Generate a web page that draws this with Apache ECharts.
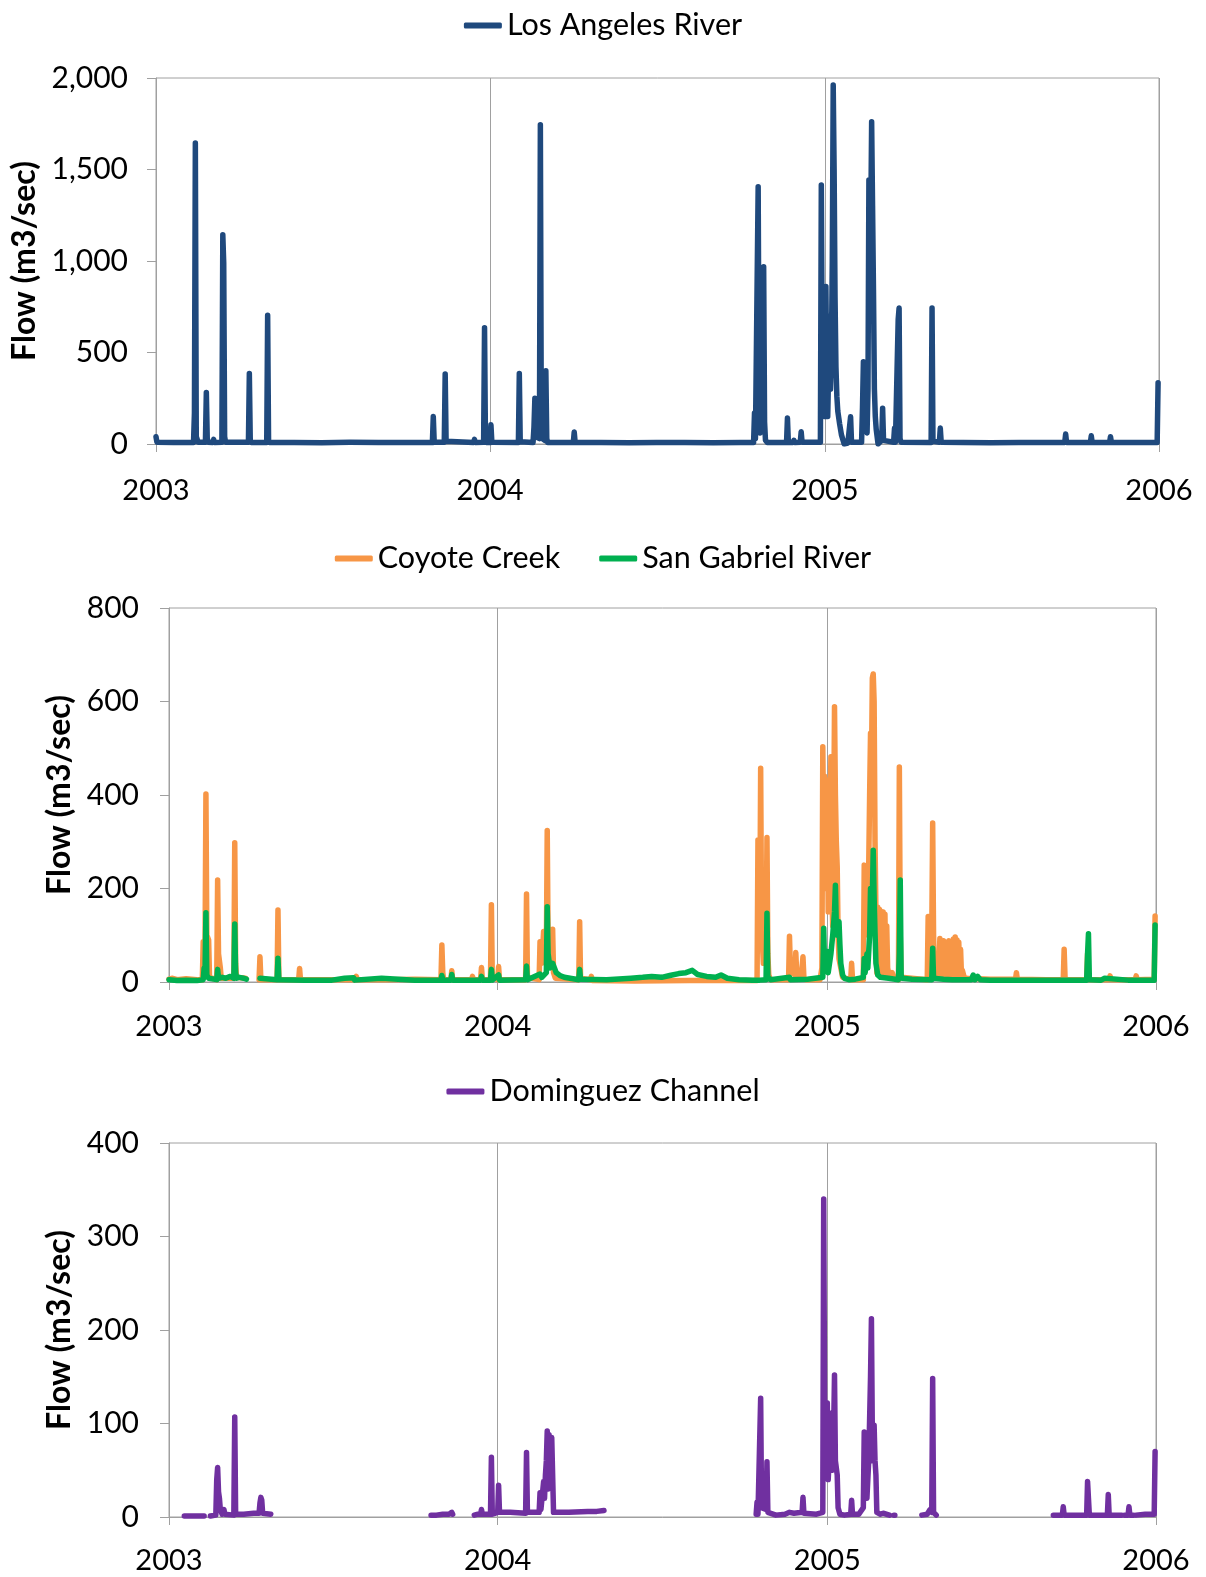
<!DOCTYPE html>
<html>
<head>
<meta charset="utf-8">
<script src="https://cdn.jsdelivr.net/npm/echarts@6/dist/echarts.min.js"></script>
<style>
html, body { margin: 0; padding: 0; background: #fff; }
#flow_chart { width: 1206px; height: 1577px; }
</style>
</head>
<body>
<div id="flow_chart"></div>
<script>
// daily flow readings, m3/sec ('-' = no record)
var yearTicks = [2003, 2004, 2005, 2006];

var laRiver = [
    ['2003-01-01', 40], ['2003-01-02', 10], ['2003-01-20', 8], ['2003-02-11', 8], ['2003-02-12', 170], ['2003-02-13', 1645],
    ['2003-02-14', 40], ['2003-02-16', 10], ['2003-02-24', 10], ['2003-02-25', 282], ['2003-02-26', 30], ['2003-02-27', 10],
    ['2003-03-04', 8], ['2003-03-05', 25], ['2003-03-06', 8], ['2003-03-14', 10], ['2003-03-15', 1143], ['2003-03-16', 990],
    ['2003-03-17', 40], ['2003-03-18', 10], ['2003-04-12', 10], ['2003-04-13', 385], ['2003-04-14', 20], ['2003-04-15', 8],
    ['2003-05-02', 8], ['2003-05-03', 703], ['2003-05-04', 20], ['2003-05-05', 8], ['2003-06-01', 8], ['2003-07-01', 7],
    ['2003-08-01', 9], ['2003-09-01', 8], ['2003-10-01', 8], ['2003-10-30', 8], ['2003-10-31', 150], ['2003-11-01', 10],
    ['2003-11-12', 10], ['2003-11-13', 383], ['2003-11-14', 15], ['2003-11-15', 8], ['2003-12-14', 8], ['2003-12-15', 25],
    ['2003-12-16', 8], ['2003-12-25', 10], ['2003-12-26', 635], ['2003-12-27', 20], ['2003-12-28', 8], ['2004-01-01', 8],
    ['2004-01-02', 105], ['2004-01-03', 10], ['2004-02-01', 8], ['2004-02-02', 385], ['2004-02-03', 12], ['2004-02-04', 8],
    ['2004-02-17', 8], ['2004-02-18', 90], ['2004-02-19', 250], ['2004-02-20', 40], ['2004-02-24', 30], ['2004-02-25', 1745],
    ['2004-02-26', 150], ['2004-02-27', 30], ['2004-03-01', 20], ['2004-03-02', 400], ['2004-03-03', 30], ['2004-03-04', 8],
    ['2004-04-01', 8], ['2004-04-02', 66], ['2004-04-03', 8], ['2004-05-01', 8], ['2004-06-01', 7], ['2004-07-01', 8],
    ['2004-08-01', 8], ['2004-09-01', 7], ['2004-10-01', 8], ['2004-10-15', 8], ['2004-10-16', 170], ['2004-10-17', 30],
    ['2004-10-19', 40], ['2004-10-20', 1406], ['2004-10-21', 300], ['2004-10-22', 60], ['2004-10-25', 80], ['2004-10-26', 969],
    ['2004-10-27', 120], ['2004-10-28', 20], ['2004-10-30', 8], ['2004-11-20', 8], ['2004-11-21', 142], ['2004-11-22', 8],
    ['2004-11-27', 8], ['2004-11-28', 20], ['2004-11-29', 8], ['2004-12-05', 10], ['2004-12-06', 67], ['2004-12-07', 10],
    ['2004-12-27', 10], ['2004-12-28', 1415], ['2004-12-29', 500], ['2004-12-30', 200], ['2004-12-31', 300], ['2005-01-01', 150],
    ['2005-01-02', 860], ['2005-01-03', 300], ['2005-01-04', 150], ['2005-01-05', 400], ['2005-01-06', 700], ['2005-01-07', 300],
    ['2005-01-08', 500], ['2005-01-09', 1000], ['2005-01-10', 1962], ['2005-01-11', 1500], ['2005-01-12', 800], ['2005-01-13', 420],
    ['2005-01-14', 260], ['2005-01-15', 180], ['2005-01-17', 110], ['2005-01-19', 50], ['2005-01-22', 0], ['2005-01-26', 5],
    ['2005-01-28', 8], ['2005-01-29', 149], ['2005-01-30', 10], ['2005-02-10', 10], ['2005-02-11', 200], ['2005-02-12', 450],
    ['2005-02-13', 150], ['2005-02-14', 395], ['2005-02-15', 100], ['2005-02-16', 60], ['2005-02-17', 300], ['2005-02-18', 1442],
    ['2005-02-19', 900], ['2005-02-20', 1200], ['2005-02-21', 1761], ['2005-02-22', 1300], ['2005-02-23', 841], ['2005-02-24', 300],
    ['2005-02-25', 150], ['2005-02-26', 80], ['2005-02-27', 40], ['2005-02-28', 0], ['2005-03-02', 5], ['2005-03-04', 20],
    ['2005-03-05', 196], ['2005-03-06', 20], ['2005-03-08', 10], ['2005-03-17', 10], ['2005-03-18', 87], ['2005-03-19', 10],
    ['2005-03-21', 10], ['2005-03-22', 680], ['2005-03-23', 743], ['2005-03-24', 30], ['2005-03-25', 10], ['2005-04-27', 8],
    ['2005-04-28', 743], ['2005-04-29', 15], ['2005-05-06', 10], ['2005-05-07', 87], ['2005-05-08', 10], ['2005-06-01', 8],
    ['2005-07-01', 7], ['2005-08-01', 8], ['2005-09-01', 8], ['2005-09-20', 8], ['2005-09-21', 55], ['2005-09-22', 8],
    ['2005-10-18', 8], ['2005-10-19', 45], ['2005-10-20', 8], ['2005-11-08', 8], ['2005-11-09', 40], ['2005-11-10', 8],
    ['2005-12-01', 8], ['2005-12-30', 8], ['2005-12-31', 335]
];

var coyoteCreek = [
    ['2003-01-01', 6], ['2003-01-05', 8], ['2003-01-10', 5], ['2003-01-20', 7], ['2003-02-01', 5], ['2003-02-07', 5],
    ['2003-02-08', 86], ['2003-02-10', 60], ['2003-02-11', 402], ['2003-02-12', 100], ['2003-02-14', 90], ['2003-02-15', 10],
    ['2003-02-23', 5], ['2003-02-24', 218], ['2003-02-25', 60], ['2003-02-27', 30], ['2003-02-28', 8], ['2003-03-14', 8],
    ['2003-03-15', 298], ['2003-03-16', 40], ['2003-03-17', 10], ['2003-03-27', 8], ['2003-03-29', '-'], ['2003-04-11', 5],
    ['2003-04-12', 54], ['2003-04-13', 5], ['2003-05-01', 5], ['2003-05-02', 154], ['2003-05-03', 10], ['2003-05-04', 5],
    ['2003-05-25', 5], ['2003-05-26', 29], ['2003-05-27', 5], ['2003-07-27', 5], ['2003-07-28', 12], ['2003-07-29', 5],
    ['2003-09-01', 5], ['2003-10-01', 6], ['2003-10-30', 5], ['2003-10-31', 79], ['2003-11-01', 20], ['2003-11-02', 5],
    ['2003-11-10', 5], ['2003-11-11', 24], ['2003-11-12', 5], ['2003-12-03', 5], ['2003-12-04', 12], ['2003-12-05', 5],
    ['2003-12-13', 5], ['2003-12-14', 31], ['2003-12-15', 5], ['2003-12-24', 5], ['2003-12-25', 165], ['2003-12-26', 10],
    ['2004-01-01', 5], ['2004-01-02', 33], ['2004-01-03', 5], ['2004-02-01', 5], ['2004-02-02', 188], ['2004-02-03', 10],
    ['2004-02-16', 5], ['2004-02-17', 86], ['2004-02-19', 40], ['2004-02-21', 108], ['2004-02-24', 60], ['2004-02-25', 324],
    ['2004-02-26', 80], ['2004-03-01', 40], ['2004-03-02', 113], ['2004-03-03', 20], ['2004-03-05', 8], ['2004-03-31', 5],
    ['2004-04-01', 129], ['2004-04-02', 8], ['2004-04-13', 5], ['2004-04-14', 12], ['2004-04-15', 3], ['2004-06-01', 2],
    ['2004-08-01', 3], ['2004-10-15', 3], ['2004-10-16', 304], ['2004-10-17', 150], ['2004-10-18', 100], ['2004-10-19', 457],
    ['2004-10-20', 120], ['2004-10-22', 40], ['2004-10-25', 60], ['2004-10-26', 309], ['2004-10-27', 60], ['2004-10-28', 15],
    ['2004-10-30', 5], ['2004-11-19', 5], ['2004-11-20', 98], ['2004-11-21', 30], ['2004-11-23', 20], ['2004-11-26', 15],
    ['2004-11-27', 63], ['2004-11-28', 20], ['2004-12-03', 10], ['2004-12-05', 54], ['2004-12-06', 10], ['2004-12-08', 5],
    ['2004-12-24', 5], ['2004-12-26', 30], ['2004-12-27', 503], ['2004-12-28', 300], ['2004-12-29', 440], ['2004-12-30', 200],
    ['2004-12-31', 300], ['2005-01-01', 432], ['2005-01-02', 150], ['2005-01-03', 200], ['2005-01-05', 482], ['2005-01-06', 200],
    ['2005-01-07', 120], ['2005-01-08', 300], ['2005-01-09', 589], ['2005-01-10', 400], ['2005-01-11', 300], ['2005-01-12', 247],
    ['2005-01-13', 100], ['2005-01-14', 50], ['2005-01-16', 30], ['2005-01-18', 10], ['2005-01-27', 5], ['2005-01-28', 40],
    ['2005-01-29', 5], ['2005-02-10', 5], ['2005-02-11', 250], ['2005-02-12', 100], ['2005-02-14', 200], ['2005-02-16', 250],
    ['2005-02-17', 400], ['2005-02-18', 532], ['2005-02-19', 450], ['2005-02-20', 650], ['2005-02-21', 659], ['2005-02-22', 600],
    ['2005-02-23', 300], ['2005-02-24', 150], ['2005-02-25', 20], ['2005-02-26', 160], ['2005-02-27', 15], ['2005-02-28', 155],
    ['2005-03-01', 20], ['2005-03-02', 150], ['2005-03-03', 15], ['2005-03-04', 150], ['2005-03-05', 20], ['2005-03-06', 145],
    ['2005-03-07', 15], ['2005-03-08', 120], ['2005-03-09', 30], ['2005-03-11', 10], ['2005-03-14', 20], ['2005-03-16', 8],
    ['2005-03-21', 5], ['2005-03-22', 460], ['2005-03-23', 100], ['2005-03-24', 10], ['2005-04-22', 5], ['2005-04-23', 140],
    ['2005-04-24', 20], ['2005-04-25', 80], ['2005-04-26', 15], ['2005-04-27', 100], ['2005-04-28', 340], ['2005-04-29', 100],
    ['2005-04-30', 20], ['2005-05-01', 60], ['2005-05-02', 15], ['2005-05-03', 40], ['2005-05-04', 10], ['2005-05-05', 30],
    ['2005-05-06', 93], ['2005-05-07', 10], ['2005-05-08', 80], ['2005-05-09', 15], ['2005-05-10', 88], ['2005-05-11', 10],
    ['2005-05-12', 75], ['2005-05-13', 12], ['2005-05-14', 85], ['2005-05-15', 10], ['2005-05-16', 88], ['2005-05-17', 90],
    ['2005-05-18', 12], ['2005-05-19', 82], ['2005-05-20', 10], ['2005-05-21', 92], ['2005-05-22', 15], ['2005-05-23', 96],
    ['2005-05-24', 10], ['2005-05-25', 90], ['2005-05-26', 12], ['2005-05-27', 85], ['2005-05-28', 10], ['2005-05-29', 70],
    ['2005-05-30', 15], ['2005-05-31', 25], ['2005-06-02', 10], ['2005-06-05', 8], ['2005-07-01', 6], ['2005-07-29', 6],
    ['2005-07-30', 20], ['2005-07-31', 6], ['2005-09-01', 5], ['2005-09-20', 5], ['2005-09-21', 70], ['2005-09-22', 10],
    ['2005-09-23', 5], ['2005-10-16', 5], ['2005-10-17', 60], ['2005-10-18', 20], ['2005-10-19', 5], ['2005-11-10', 5],
    ['2005-11-11', 13], ['2005-11-12', 5], ['2005-12-09', 5], ['2005-12-10', 13], ['2005-12-11', 5], ['2005-12-30', 6],
    ['2005-12-31', 141]
];

var sanGabriel = [
    ['2003-01-01', 5], ['2003-01-10', 3], ['2003-01-20', 4], ['2003-02-01', 3], ['2003-02-08', 5], ['2003-02-09', 30],
    ['2003-02-10', 20], ['2003-02-11', 148], ['2003-02-12', 15], ['2003-02-14', 8], ['2003-02-23', 5], ['2003-02-24', 27],
    ['2003-02-25', 8], ['2003-03-01', 10], ['2003-03-05', 8], ['2003-03-10', 12], ['2003-03-14', 8], ['2003-03-15', 124],
    ['2003-03-16', 20], ['2003-03-17', 8], ['2003-03-20', 10], ['2003-03-25', 8], ['2003-03-28', 6], ['2003-03-29', '-'],
    ['2003-04-12', 8], ['2003-04-13', 5], ['2003-05-01', 5], ['2003-05-02', 51], ['2003-05-03', 5], ['2003-06-01', 4],
    ['2003-07-01', 4], ['2003-07-15', 8], ['2003-07-16', 4], ['2003-07-25', 9], ['2003-07-26', 4], ['2003-08-25', 8],
    ['2003-08-26', 4], ['2003-10-01', 4], ['2003-10-30', 4], ['2003-10-31', 14], ['2003-11-01', 4], ['2003-11-10', 4],
    ['2003-11-11', 16], ['2003-11-12', 4], ['2003-12-13', 4], ['2003-12-14', 12], ['2003-12-15', 4], ['2003-12-24', 4],
    ['2003-12-25', 27], ['2003-12-26', 4], ['2004-01-02', 15], ['2004-01-03', 4], ['2004-02-01', 5], ['2004-02-02', 34],
    ['2004-02-03', 5], ['2004-02-17', 17], ['2004-02-19', 10], ['2004-02-24', 20], ['2004-02-25', 161], ['2004-02-26', 60],
    ['2004-02-28', 30], ['2004-03-02', 40], ['2004-03-04', 30], ['2004-03-06', 20], ['2004-03-10', 14], ['2004-03-15', 10],
    ['2004-03-31', 5], ['2004-04-01', 27], ['2004-04-02', 6], ['2004-05-01', 5], ['2004-05-28', 8], ['2004-06-10', 10],
    ['2004-06-20', 12], ['2004-07-01', 10], ['2004-07-10', 14], ['2004-07-20', 18], ['2004-07-28', 20], ['2004-08-04', 25],
    ['2004-08-10', 16], ['2004-08-20', 12], ['2004-08-30', 10], ['2004-09-05', 15], ['2004-09-12', 8], ['2004-09-25', 5],
    ['2004-10-10', 4], ['2004-10-18', 4], ['2004-10-19', 8], ['2004-10-20', 4], ['2004-10-25', 5], ['2004-10-26', 147],
    ['2004-10-27', 10], ['2004-10-30', 5], ['2004-11-20', 10], ['2004-11-21', 5], ['2004-12-10', 6], ['2004-12-27', 10],
    ['2004-12-28', 115], ['2004-12-29', 30], ['2004-12-31', 40], ['2005-01-01', 65], ['2005-01-02', 20], ['2005-01-05', 60],
    ['2005-01-07', 100], ['2005-01-09', 150], ['2005-01-10', 207], ['2005-01-11', 120], ['2005-01-12', 100], ['2005-01-14', 129],
    ['2005-01-15', 80], ['2005-01-16', 40], ['2005-01-18', 15], ['2005-01-20', 8], ['2005-01-25', 5], ['2005-02-01', 6],
    ['2005-02-10', 10], ['2005-02-11', 50], ['2005-02-12', 20], ['2005-02-14', 60], ['2005-02-15', 30], ['2005-02-17', 100],
    ['2005-02-18', 200], ['2005-02-19', 120], ['2005-02-20', 180], ['2005-02-21', 282], ['2005-02-22', 180], ['2005-02-23', 105],
    ['2005-02-24', 40], ['2005-02-26', 15], ['2005-03-01', 10], ['2005-03-10', 8], ['2005-03-21', 5], ['2005-03-22', 60],
    ['2005-03-23', 218], ['2005-03-24', 15], ['2005-03-25', 8], ['2005-04-05', 6], ['2005-04-27', 5], ['2005-04-28', 72],
    ['2005-04-29', 8], ['2005-05-10', 6], ['2005-05-20', 5], ['2005-06-10', 5], ['2005-06-12', 15], ['2005-06-14', 5],
    ['2005-06-17', 12], ['2005-06-20', 5], ['2005-07-01', 4], ['2005-08-01', 4], ['2005-09-01', 4], ['2005-10-16', 4],
    ['2005-10-17', 60], ['2005-10-18', 103], ['2005-10-19', 5], ['2005-11-01', 4], ['2005-11-05', 8], ['2005-11-06', 4],
    ['2005-12-01', 4], ['2005-12-30', 4], ['2005-12-31', 122]
];

var dominguez = [
    ['2003-01-18', 1], ['2003-01-28', 1], ['2003-02-09', 1], ['2003-02-12', '-'], ['2003-02-16', 1], ['2003-02-22', 2],
    ['2003-02-23', 40], ['2003-02-24', 53], ['2003-02-25', 27], ['2003-02-26', 20], ['2003-02-27', 8], ['2003-03-01', 3],
    ['2003-03-03', 8], ['2003-03-04', 3], ['2003-03-14', 2], ['2003-03-15', 107], ['2003-03-16', 3], ['2003-03-25', 3],
    ['2003-04-05', 4], ['2003-04-11', 4], ['2003-04-12', 15], ['2003-04-13', 21], ['2003-04-14', 18], ['2003-04-15', 4],
    ['2003-04-24', 3], ['2003-04-26', '-'], ['2003-10-19', 2], ['2003-10-25', 2], ['2003-11-01', 3], ['2003-11-08', 3],
    ['2003-11-11', 5], ['2003-11-12', 3], ['2003-11-14', '-'], ['2003-12-06', 2], ['2003-12-10', 3], ['2003-12-13', 3],
    ['2003-12-14', 8], ['2003-12-15', 3], ['2003-12-24', 3], ['2003-12-25', 64], ['2003-12-26', 3], ['2004-01-01', 5],
    ['2004-01-02', 34], ['2004-01-03', 5], ['2004-01-15', 5], ['2004-02-01', 4], ['2004-02-02', 69], ['2004-02-03', 5],
    ['2004-02-16', 5], ['2004-02-17', 26], ['2004-02-18', 8], ['2004-02-20', 10], ['2004-02-21', 38], ['2004-02-22', 20],
    ['2004-02-23', 45], ['2004-02-24', 60], ['2004-02-25', 92], ['2004-02-26', 30], ['2004-02-27', 88], ['2004-02-28', 40],
    ['2004-03-01', 85], ['2004-03-02', 86], ['2004-03-03', 5], ['2004-03-20', 5], ['2004-04-10', 6], ['2004-04-20', 6],
    ['2004-04-28', 7], ['2004-04-30', '-'], ['2004-10-14', 3], ['2004-10-15', 16], ['2004-10-16', 3], ['2004-10-18', 5],
    ['2004-10-19', 127], ['2004-10-20', 10], ['2004-10-25', 8], ['2004-10-26', 59], ['2004-10-27', 5], ['2004-11-05', 2],
    ['2004-11-15', 3], ['2004-11-20', 5], ['2004-11-25', 4], ['2004-12-04', 5], ['2004-12-05', 21], ['2004-12-06', 4],
    ['2004-12-20', 3], ['2004-12-27', 5], ['2004-12-28', 340], ['2004-12-29', 120], ['2004-12-30', 60], ['2004-12-31', 100],
    ['2005-01-01', 122], ['2005-01-02', 40], ['2005-01-04', 80], ['2005-01-05', 111], ['2005-01-06', 50], ['2005-01-08', 90],
    ['2005-01-09', 152], ['2005-01-10', 60], ['2005-01-12', 45], ['2005-01-13', 10], ['2005-01-15', 3], ['2005-01-20', 2],
    ['2005-01-27', 3], ['2005-01-28', 18], ['2005-01-29', 3], ['2005-02-05', 3], ['2005-02-10', 10], ['2005-02-11', 91],
    ['2005-02-12', 40], ['2005-02-14', 20], ['2005-02-16', 60], ['2005-02-18', 150], ['2005-02-19', 212], ['2005-02-20', 90],
    ['2005-02-21', 60], ['2005-02-22', 98], ['2005-02-23', 60], ['2005-02-24', 45], ['2005-02-25', 5], ['2005-03-01', 3],
    ['2005-03-04', 4], ['2005-03-06', 2], ['2005-03-11', 2], ['2005-03-13', '-'], ['2005-03-16', 2], ['2005-03-17', 2],
    ['2005-03-19', '-'], ['2005-04-16', 2], ['2005-04-22', 3], ['2005-04-25', 8], ['2005-04-26', 10], ['2005-04-27', 5],
    ['2005-04-28', 148], ['2005-04-29', 5], ['2005-05-02', 2], ['2005-05-04', '-'], ['2005-09-09', 2], ['2005-09-19', 2],
    ['2005-09-20', 11], ['2005-09-21', 2], ['2005-10-16', 2], ['2005-10-17', 38], ['2005-10-18', 20], ['2005-10-19', 2],
    ['2005-11-08', 2], ['2005-11-09', 24], ['2005-11-10', 2], ['2005-11-24', 2], ['2005-11-26', '-'], ['2005-11-27', 2],
    ['2005-12-01', 2], ['2005-12-02', 11], ['2005-12-03', 2], ['2005-12-07', 2], ['2005-12-09', '-'], ['2005-12-10', 2],
    ['2005-12-20', 3], ['2005-12-30', 3], ['2005-12-31', 70]
];

var FONT = 'Lato';
var AXIS_GRAY = '#a0a0a0';

function x_axis(idx, margin){
    return {
        type: 'time',
        gridIndex: idx,
        min: +new Date(yearTicks[0], 0, 1),
        max: +new Date(yearTicks[yearTicks.length - 1], 0, 1),
        splitNumber: 3,
        minInterval: 365 * 86400000,
        maxInterval: 366 * 86400000,
        axisLine: {lineStyle: {color: AXIS_GRAY, width: 1}},
        axisTick: {show: true, length: 8, lineStyle: {color: AXIS_GRAY}},
        splitLine: {show: true, lineStyle: {color: AXIS_GRAY, width: 1}},
        axisLabel: {
            formatter: function(v){ return String(new Date(v).getFullYear()); },
            color: '#000', fontFamily: FONT, fontSize: 29, margin: margin,
            showMinLabel: true, showMaxLabel: true, hideOverlap: false
        }
    };
}

function y_axis(idx, max, step, gap, margin){
    return {
        type: 'value',
        gridIndex: idx,
        min: 0, max: max, interval: step,
        name: 'Flow (m3/sec)',
        nameLocation: 'middle',
        nameRotate: 90,
        nameGap: gap,
        nameTextStyle: {fontFamily: FONT, fontWeight: 'bold', fontSize: 32, color: '#000'},
        axisLine: {show: true, lineStyle: {color: AXIS_GRAY, width: 1}},
        axisTick: {show: true, length: 9, lineStyle: {color: AXIS_GRAY}},
        splitLine: {show: false},
        axisLabel: {
            formatter: function(v){ return v.toLocaleString('en-US'); },
            color: '#000', fontFamily: FONT, fontSize: 30, margin: margin
        }
    };
}

function line(name, idx, data, color){
    return {
        name: name, type: 'line',
        xAxisIndex: idx, yAxisIndex: idx,
        data: data,
        showSymbol: false, symbol: 'none',
        lineStyle: {color: color, width: 5.5, cap: 'round', join: 'round'},
        itemStyle: {color: color},
        silent: true
    };
}

function legend_box(names, top){
    return {
        data: names, top: top, left: 'center',
        icon: 'roundRect', itemWidth: 38, itemHeight: 6, itemGap: 39,
        textStyle: {fontFamily: FONT, fontSize: 30.5, color: '#000'}
    };
}

function flow_chart(){
    var chart = echarts.init(document.getElementById('flow_chart'));
    var gridStyle = {show: true, borderColor: AXIS_GRAY, borderWidth: 1};

    var option = {
        animation: false,
        backgroundColor: '#fff',
        legend: [
            legend_box(['Los Angeles River'], 5),
            legend_box(['Coyote Creek', 'San Gabriel River'], 538),
            legend_box(['Dominguez Channel'], 1071)
        ],
        grid: [
            Object.assign({left: 156, top: 78, width: 1003, height: 366}, gridStyle),
            Object.assign({left: 169, top: 608, width: 987, height: 374}, gridStyle),
            Object.assign({left: 169, top: 1143, width: 987, height: 374}, gridStyle)
        ],
        xAxis: [x_axis(0, 32), x_axis(1, 30), x_axis(2, 29)],
        yAxis: [
            y_axis(0, 2000, 500, 113, 28),
            y_axis(1, 800, 200, 91, 30),
            y_axis(2, 400, 100, 91, 30)
        ],
        series: [
            line('Los Angeles River', 0, laRiver, '#1F497D'),
            line('Coyote Creek', 1, coyoteCreek, '#F79646'),
            line('San Gabriel River', 1, sanGabriel, '#00B050'),
            line('Dominguez Channel', 2, dominguez, '#7030A0')
        ]
    };
    chart.setOption(option);
}

flow_chart();
</script>
</body>
</html>
